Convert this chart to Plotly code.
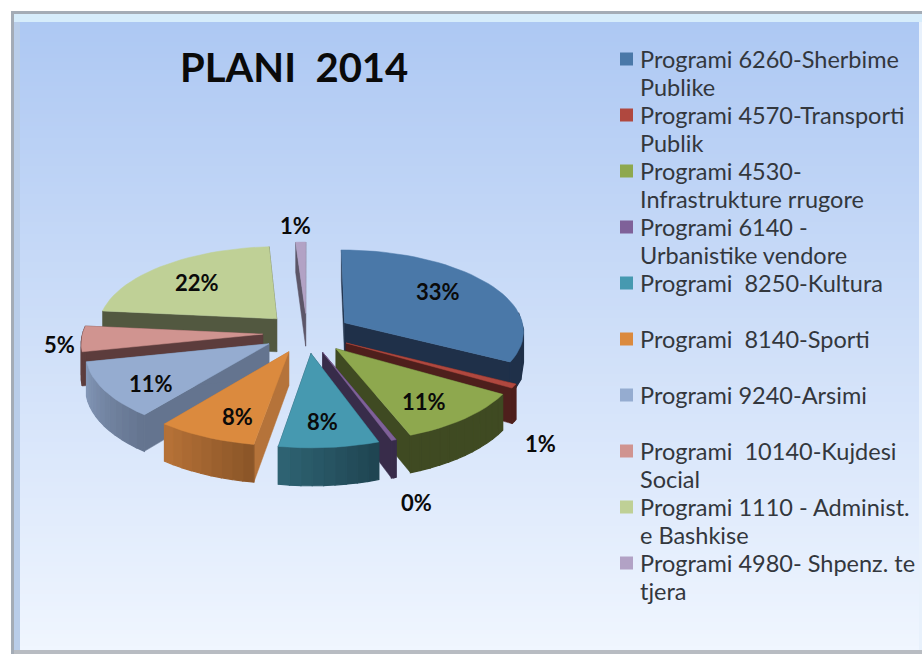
import numpy as np
import plotly.graph_objects as go

# ---- data ----
title_text = "PLANI  2014"
categories = ["Programi 6260-Sherbime Publike", "Programi 4570-Transporti Publik",
              "Programi 4530-Infrastrukture rrugore", "Programi 6140 -Urbanistike vendore",
              "Programi  8250-Kultura", "Programi  8140-Sporti", "Programi 9240-Arsimi",
              "Programi  10140-Kujdesi Social", "Programi 1110 - Administ. e Bashkise",
              "Programi 4980- Shpenz. te tjera"]
shares = [32.8, 0.8, 10.6, 0.4, 8.0, 8.0, 11.0, 5.0, 22.4, 1.0]
legend_lines = [["Programi 6260-Sherbime", "Publike"], ["Programi 4570-Transporti", "Publik"],
                ["Programi 4530-", "Infrastrukture rrugore"], ["Programi 6140 -", "Urbanistike vendore"],
                ["Programi  8250-Kultura"], ["Programi  8140-Sporti"], ["Programi 9240-Arsimi"],
                ["Programi  10140-Kujdesi", "Social"], ["Programi 1110 - Administ.", "e Bashkise"],
                ["Programi 4980- Shpenz. te", "tjera"]]

# ---- style ----
top_colors = ["#4a78a8", "#b0483f", "#8ea84e", "#7f6199", "#4699b0",
              "#db8a3e", "#95acd0", "#d09490", "#bfd096", "#b2a2c5"]
wall_left = ["#20324c", "#55231f", "#414c24", "#3a2e4c", "#2f6474",
             "#b87338", "#8498b8", "#5e3e3e", "#53593f", "#5c5668"]
wall_right = ["#1f3049", "#4e1f1c", "#3f4a22", "#382c4a", "#1f4450",
              "#8a5528", "#64748f", "#5c3c3c", "#525840", "#5c5668"]
radial_colors = ["#1f3049", "#4e1f1c", "#3f4a22", "#382c4a", "#1f4450",
                 "#b5733a", "#64748f", "#5c3c3c", "#525840", "#5c5668"]
label_xy = [(438, 291), (540, 443), (424, 401), (416, 502), (322, 421),
            (237, 416), (151, 383), (59, 344), (197, 282), (295, 225)]
CX, CY, BX, AY, K, DEPTH, PULL = 307, 333, 180, 81.5, 0.0935, 33.5, 0.246


def project(u, v, drop=0.0):
    s = 1 / (1 + K * v)
    return CX + BX * u * s, CY - AY * v * s + drop * s


def hex2rgb(c):
    return np.array([int(c[i:i + 2], 16) for i in (1, 3, 5)], float)


def mix(a, b, t):
    m = hex2rgb(a) * (1 - t) + hex2rgb(b) * t
    return "rgb(%d,%d,%d)" % tuple(m)


def poly(fig, xs, ys, color, name, width=0.5):
    fig.add_trace(go.Scatter(x=list(xs), y=list(ys), mode="lines", fill="toself",
                             fillcolor=color, line=dict(color=color, width=width),
                             name=name, showlegend=False, hoverinfo="name"))


fig = go.Figure()
total = sum(shares)
edges = np.cumsum([0] + shares) / total * 2 * np.pi
slices = []
for i, cat in enumerate(categories):
    a0, a1 = edges[i], edges[i + 1]
    mid = (a0 + a1) / 2
    slices.append((i, a0, a1, np.sin(mid) * PULL, np.cos(mid) * PULL))
slices.sort(key=lambda s: -s[4])

for i, a0, a1, ox, oy in slices:
    n = max(3, int((a1 - a0) / 0.05))
    th = np.linspace(a0, a1, n)
    rim_u, rim_v = ox + np.sin(th), oy + np.cos(th)
    ax, ay = project(ox, oy)
    axd, ayd = project(ox, oy, DEPTH)
    name = categories[i]
    # straight cut walls
    for j in (0, -1):
        px, py = project(rim_u[j], rim_v[j])
        qx, qy = project(rim_u[j], rim_v[j], DEPTH)
        poly(fig, [ax, px, qx, axd, ax], [ay, py, qy, ayd, ay], radial_colors[i], name)
    # outer wall, shaded left to right
    tx, ty = project(rim_u, rim_v)
    bx, by = project(rim_u, rim_v, DEPTH)
    step = max(1, (n - 1) // 10)
    for j in range(0, n - 1, step):
        k = min(j + step, n - 1)
        if np.cos(th[j]) > 0.05 and np.cos(th[k]) > 0.05:
            continue
        t = np.clip((np.sin((th[j] + th[k]) / 2) + 1) / 2, 0, 1) if i not in (4, 5, 6) else (
            (th[j] + th[k]) / 2 - a1) / (a0 - a1)
        c = mix(wall_left[i], wall_right[i], float(t))
        poly(fig, [tx[j], tx[k], bx[k], bx[j], tx[j]], [ty[j], ty[k], by[k], by[j], ty[j]], c, name, width=1.2)
    # top face
    poly(fig, [ax] + list(tx) + [ax], [ay] + list(ty) + [ay], top_colors[i], name)

# ---- backdrop ----
shapes = []
grad_top, grad_bot = "#adc8f3", "#f0f6ff"
Y0, Y1, X0, X1 = 14, 650, 14, 922
BAND = 4
bands = (Y1 - Y0) // BAND
for b in range(bands):
    shapes.append(dict(type="rect", xref="x", yref="y", layer="below",
                       x0=X0, x1=X1, y0=Y0 + BAND * b, y1=min(Y0 + BAND * (b + 1) + 1, Y1),
                       fillcolor=mix(grad_top, grad_bot, b / (bands - 1)), line_width=0))
for r, col in [((11, 11, 14, 654), "#a4acb6"), ((11, 11, 922, 14), "#a4acb6"),
               ((14, 14, 922, 22), "#d6ecfb"), ((14, 22, 20, 650), "#b9cde9"),
               ((919, 22, 922, 650), "#e8f1fc"), ((14, 650, 922, 654), "#b8bcc2")]:
    shapes.append(dict(type="rect", xref="x", yref="y", layer="below", x0=r[0], y0=r[1], x1=r[2], y1=r[3],
                       fillcolor=col, line_width=0))

# ---- legend and labels ----
annotations = [dict(x=178, y=67, xref="x", yref="y", xanchor="left", yanchor="middle", showarrow=False,
                    text="<b>%s</b>" % title_text, font=dict(family="Lato", size=40, color="#0a0a0a"))]
for i, (x, y) in enumerate(label_xy):
    annotations.append(dict(x=x, y=y, xref="x", yref="y", showarrow=False, xanchor="center", yanchor="middle",
                            text="<b>%d%%</b>" % round(shares[i]),
                            font=dict(family="Lato", size=22, color="#0a0a0a")))
LEG_TOP, LEG_ROW, LEG_X = 59, 28, 638
row = 0
for i, lines in enumerate(legend_lines):
    y = LEG_TOP + row * LEG_ROW
    shapes.append(dict(type="rect", xref="x", yref="y", x0=620, x1=633, y0=y - 6.5, y1=y + 6.5,
                       fillcolor=top_colors[i], line_width=0))
    for l, txt in enumerate(lines):
        annotations.append(dict(x=LEG_X, y=y + l * LEG_ROW, xref="x", yref="y", xanchor="left", yanchor="middle",
                                showarrow=False, text=txt, font=dict(family="Lato", size=23.5, color="#33373d")))
    row += 2

fig.update_layout(width=922, height=654, autosize=False, margin=dict(l=0, r=0, t=0, b=0),
                  paper_bgcolor="white", plot_bgcolor="rgba(0,0,0,0)", showlegend=False,
                  shapes=shapes, annotations=annotations,
                  xaxis=dict(range=[0, 922], visible=False, fixedrange=True),
                  yaxis=dict(range=[654, 0], visible=False, fixedrange=True))
fig.write_html("out.html", config=dict(displayModeBar=False),
               post_script="document.body.style.margin='0';document.body.style.overflow='hidden';")
